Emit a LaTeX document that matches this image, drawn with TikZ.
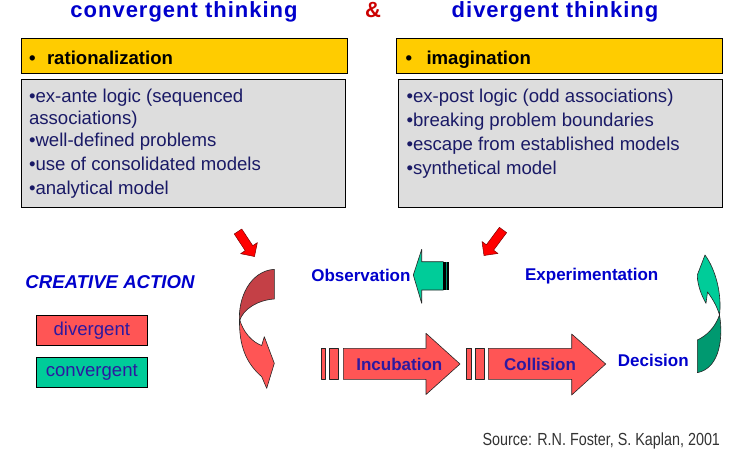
\documentclass[tikz,border=0pt]{standalone}
\usepackage{fontspec}
\setmainfont{Liberation Sans}
\definecolor{tblue}{RGB}{0,0,204}
\definecolor{tred}{RGB}{204,0,0}
\definecolor{navy}{RGB}{26,26,102}
\definecolor{yfill}{RGB}{255,204,0}
\definecolor{gfill}{RGB}{221,221,221}
\definecolor{lred}{RGB}{255,85,85}
\definecolor{dred}{RGB}{196,64,70}
\definecolor{mteal}{RGB}{0,204,153}
\definecolor{dteal}{RGB}{0,153,112}
\definecolor{pblue}{RGB}{45,25,160}
\begin{document}
\begin{tikzpicture}[x=1pt,y=-1pt,
  txt/.style={inner sep=0pt, outer sep=0pt},
  titletxt/.style={txt, font=\fontsize{22}{26}\selectfont\bfseries\addfontfeature{LetterSpace=4.5}, text=tblue, anchor=base},
  body/.style={txt, font=\fontsize{18.6}{22}\selectfont, text=navy, anchor=base west},
  headtxt/.style={txt, font=\fontsize{18.6}{22}\selectfont\bfseries, text=black, anchor=base west},
  ybox/.style={draw=black, line width=0.9pt, fill=yfill, inner sep=0pt, anchor=north west},
  gbox/.style={draw=black, line width=0.9pt, fill=gfill, inner sep=0pt, anchor=north west},
  legbox/.style={draw=black, line width=0.9pt, inner sep=0pt, anchor=north west,
    minimum width=110.7pt, minimum height=30pt,
    font=\fontsize{18.6}{22}\selectfont, text=pblue},
  stage/.style={txt, font=\fontsize{17}{20}\selectfont\bfseries, text=tblue, anchor=base},
  inlbl/.style={txt, font=\fontsize{17}{20}\selectfont\bfseries, text=pblue, anchor=base},
  redshape/.style={draw=black!85, line width=0.6pt, fill=lred, line join=round},
  darkred/.style={draw=black!85, line width=0.6pt, fill=dred, line join=round},
  greenshape/.style={draw=black!85, line width=0.6pt, fill=mteal, line join=round},
  darkgreen/.style={draw=black!85, line width=0.6pt, fill=dteal, line join=round},
  pointer/.style={draw=red!50!black, line width=0.5pt, fill=red, line join=round}
]
\path[fill=white] (0,0) rectangle (740,447);

% titles
\node[titletxt] (tconv) at (184,17) {convergent thinking};
\node[titletxt, text=tred] (tamp) at (373,17) {\&};
\node[titletxt] (tdiv) at (555,17) {divergent thinking};

% left boxes
\node[ybox, minimum width=326pt, minimum height=35pt] (lyel) at (20.7,38.3) {};
\node[headtxt] (lbul) at (29,64) {•};
\node[headtxt] (lhead) at (47,64) {rationalization};
\node[gbox, minimum width=324.6pt, minimum height=127.4pt] (lgray) at (20.7,79.3) {};
\node[body] (l1) at (29,102) {•ex-ante logic (sequenced};
\node[body] (l2) at (29,124) {associations)};
\node[body] (l3) at (29,146.5) {•well-defined problems};
\node[body] (l4) at (29,170.5) {•use of consolidated models};
\node[body] (l5) at (29,194.5) {•analytical model};

% right boxes
\node[ybox, minimum width=325.7pt, minimum height=35pt] (ryel) at (396,38.3) {};
\node[headtxt] (rbul) at (405.5,64) {•};
\node[headtxt] (rhead) at (426.5,64) {imagination};
\node[gbox, minimum width=323.4pt, minimum height=127.7pt] (rgray) at (398.3,79) {};
\node[body] (r1) at (406.5,102) {•ex-post logic (odd associations)};
\node[body] (r2) at (406.5,126) {•breaking problem boundaries};
\node[body] (r3) at (406.5,150) {•escape from established models};
\node[body] (r4) at (406.5,174) {•synthetical model};

% small red pointers
\draw[pointer] (241.76,229.02) -- (252.75,245.68) -- (257.34,242.65) -- (254.5,256.5)
  -- (240.64,253.67) -- (245.23,250.64) -- (234.24,233.98) -- cycle;
\draw[pointer] (506.61,232.69) -- (493.6,250.17) -- (498.01,253.45) -- (484,255.5)
  -- (481.97,241.51) -- (486.38,244.79) -- (499.39,227.31) -- cycle;

% creative action legend
\node[txt, font=\fontsize{18.6}{22}\selectfont\bfseries\itshape, text=tblue, anchor=base] (cact) at (110,288.3) {CREATIVE ACTION};
\node[legbox, fill=lred] (ldiv) at (36,315) {divergent};
\node[legbox, fill=mteal] (lconv) at (36,356.7) {convergent};

% left curved ribbon (divergent)
\draw[darkred] (274.3,269.3) -- (274.3,299) .. controls (258,300) and (243,309) .. (239.5,321)
  .. controls (238,298) and (250,271) .. (274.3,269.3) -- cycle;
\draw[redshape] (239.5,319) .. controls (243,332) and (252,342) .. (261.7,345.5)
  -- (264.3,336.7) -- (274.3,363.3) -- (266.7,388.3) -- (261.7,376.7)
  .. controls (246,363) and (239,346) .. (239.5,319) -- cycle;

% observation arrow (convergent)
\draw[greenshape] (413.3,275) -- (421.7,249.3) -- (421.7,261.7) -- (443.3,261.7)
  -- (443.3,290) -- (421.7,290) -- (421.7,303.3) -- cycle;
\fill[black] (443.3,261.7) rectangle (445.7,290);
\fill[mteal!70!black] (445.7,261.7) rectangle (447.3,290);
\fill[black] (447.3,261.7) rectangle (449.3,290);
\node[stage, anchor=base east] (obs) at (410.5,281.7) {Observation};

% experimentation
\node[stage] (exp) at (591.7,280) {Experimentation};

% incubation arrow
\draw[redshape] (321.7,348.3) rectangle (325.7,379.3);
\draw[redshape] (329.3,348.3) rectangle (338.3,379.3);
\draw[redshape] (343.3,348.3) -- (426,348.3) -- (426,333.3) -- (460,364)
  -- (426,394.5) -- (426,379.3) -- (343.3,379.3) -- cycle;
\node[inlbl] (inc) at (399.3,370) {Incubation};

% collision arrow
\draw[redshape] (466.7,348.3) rectangle (471.7,379.3);
\draw[redshape] (475.5,348.3) rectangle (484,379.3);
\draw[redshape] (488.3,348.3) -- (571.7,348.3) -- (571.7,334) -- (605.7,364)
  -- (571.7,395) -- (571.7,379.3) -- (488.3,379.3) -- cycle;
\node[inlbl] (col) at (540,370) {Collision};

% decision
\node[stage] (dec) at (653.3,366) {Decision};

% right curved ribbon (convergent)
\draw[greenshape] (705,255) -- (697.3,275) -- (697.5,279) .. controls (699,290) and (703,298) .. (706,303.3)
  -- (707.5,292) .. controls (712,298) and (717,306) .. (719.5,315)
  .. controls (722,295) and (716,270) .. (705,255) -- cycle;
\draw[darkgreen] (719.5,315) .. controls (723,335) and (721,368) .. (697.3,372.7)
  -- (697.3,340) .. controls (706,336) and (715,328) .. (719.5,315) -- cycle;

% source
\node[txt, anchor=base east, text=black!80] (src) at (720,445)
  {\scalebox{0.82}[1]{\fontsize{17.5}{20}\selectfont Source: R.N. Foster, S. Kaplan, 2001}};
\end{tikzpicture}
\end{document}
